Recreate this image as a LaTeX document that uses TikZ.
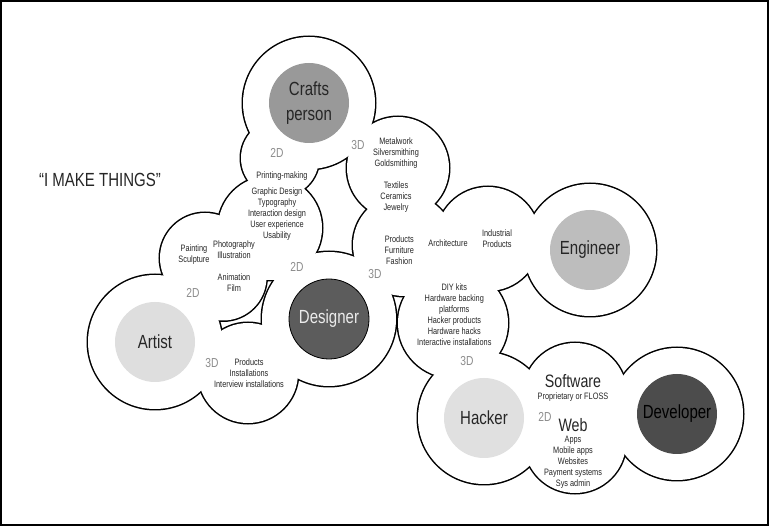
\documentclass[tikz,border=0pt]{standalone}
\usepackage{fontspec}
\setmainfont{Liberation Sans}[FakeStretch=0.79]
\definecolor{craftsC}{gray}{0.6}
\definecolor{engC}{gray}{0.74}
\definecolor{desC}{gray}{0.36}
\definecolor{artC}{gray}{0.87}
\definecolor{hackC}{gray}{0.88}
\definecolor{devC}{gray}{0.3}
\definecolor{dimC}{gray}{0.55}
\definecolor{txtC}{gray}{0.15}
\begin{document}
\begin{tikzpicture}[x=1pt,y=-1pt,
  outlinestroke/.style={draw=black,line width=3pt},
  outlinefill/.style={fill=white},
  small/.style={font=\fontsize{9.3}{11}\selectfont,align=center,inner sep=0pt,text=txtC},
  dim/.style={font=\fontsize{13}{13}\selectfont,text=dimC,inner sep=0pt},
  big/.style={font=\fontsize{18}{18}\selectfont,inner sep=0pt,text=txtC},
  role/.style={circle,minimum size=80pt,inner sep=0pt,font=\fontsize{19}{25}\selectfont,align=center},
  quote/.style={font=\fontsize{19}{19}\selectfont,inner sep=0pt,text=txtC}]
\useasboundingbox (0,0) rectangle (769,526);
\fill[white] (0,0) rectangle (769,526);
\draw[line width=2pt] (1,1) rectangle (768,525);
% cloud outline: union of circles
\def\cloud{309/103/66, 280/158/39, 270/228/52, 205/258/45, 223/277/43.5,
  155/342/67, 248/373/50, 329/319/67, 398/168/51, 404/245/51, 488/239/52,
  590/250/66, 453/323/55, 484/418/66, 575/395/52, 575/442/51, 677/414/66}
\foreach \cx/\cy/\r in \cloud { \path[outlinestroke] (\cx,\cy) circle[radius=\r pt]; }
\foreach \cx/\cy/\r in \cloud { \path[outlinefill] (\cx,\cy) circle[radius=\r pt]; }
% role circles
\node[role,fill=craftsC,text=txtC] (crafts) at (309,103) {Crafts\\person};
\node[role,fill=engC,text=txtC] (engineer) at (590,250) {Engineer};
\node[role,fill=desC,draw=black,line width=0.8pt,text=white!92!black] (designer) at (329,319) {Designer};
\node[role,fill=artC,text=txtC] (artist) at (155,342) {Artist};
\node[role,fill=hackC,text=txtC] (hacker) at (484,418) {Hacker};
\node[role,fill=devC,text=black] (developer) at (677,414) {Developer};
% title
\node[quote] (title) at (100,180) {“I MAKE THINGS”};
% dimension labels
\node[dim] (d2crafts) at (277,153) {2D};
\node[dim] (d3crafts) at (358,145) {3D};
\node[dim] (d2artist) at (193,293) {2D};
\node[dim] (d2designer) at (297,267) {2D};
\node[dim] (d3artist) at (212,363) {3D};
\node[dim] (d3center) at (375,274) {3D};
\node[dim] (d3diy) at (467,361) {3D};
\node[dim] (d2hacker) at (545,417) {2D};
% small texts
\node[small] (metal) at (396,153.5) {Metalwork\\Silversmithing\\Goldsmithing};
\node[small] (textiles) at (396,196.7) {Textiles\\Ceramics\\Jewelry};
\node[small] (printing) at (282,176) {Printing-making};
\node[small] (graphic) at (277,214.3) {Graphic Design\\Typography\\Interaction design\\User experience\\Usability};
\node[small] (painting) at (194,254.7) {Painting\\Sculpture};
\node[small] (photo) at (234,249.8) {Photography\\Illustration};
\node[small] (anim) at (234,283) {Animation\\Film};
\node[small] (artprod) at (249,373.3) {Products\\Installations\\Interview installations};
\node[small] (cprod) at (399.3,250.3) {Products\\Furniture\\Fashion};
\node[small] (arch) at (448,243) {Architecture};
\node[small] (indus) at (497,239) {Industrial\\Products};
\node[small] (diy) at (454.3,315) {DIY kits\\Hardware backing\\platforms\\Hacker products\\Hardware hacks\\Interactive installations};
\node[big] (software) at (573,381.5) {Software};
\node[small] (floss) at (573,397.5) {Proprietary or FLOSS};
\node[big] (web) at (573,425.5) {Web};
\node[small] (weblist) at (573,462.5) {Apps\\Mobile apps\\Websites\\Payment systems\\Sys admin};
\end{tikzpicture}
\end{document}
